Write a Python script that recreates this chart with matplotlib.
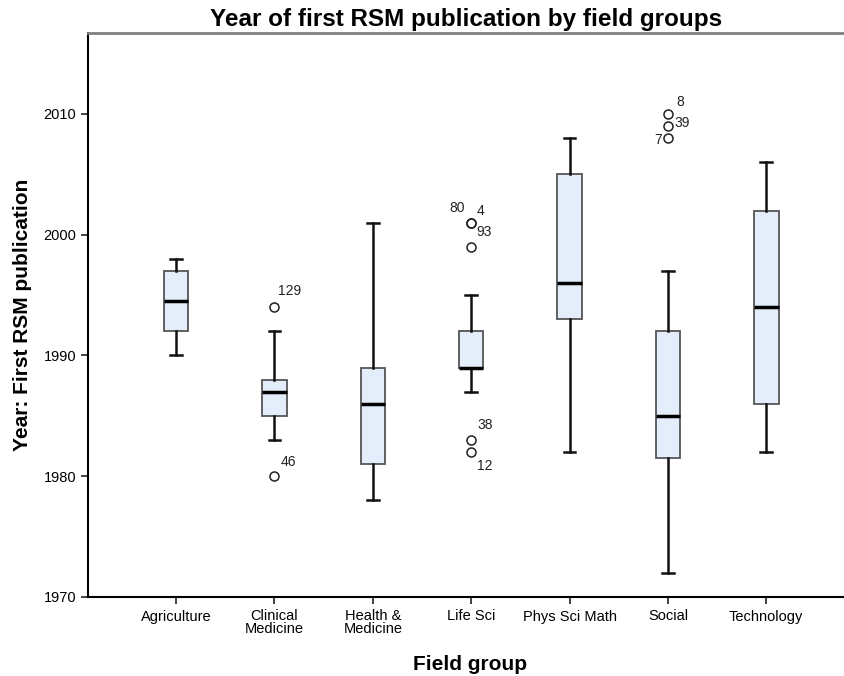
import matplotlib
matplotlib.use("Agg")
import matplotlib.pyplot as plt

plt.rcParams['font.family'] = ['Liberation Sans', 'DejaVu Sans']

# Field groups and five-number summaries (years)
groups = ["Agriculture", "Clinical\nMedicine", "Health &\nMedicine", "Life Sci",
          "Phys Sci Math", "Social", "Technology"]
whisker_low = [1990, 1983, 1978, 1987, 1982, 1972, 1982]
q1 = [1992, 1985, 1981, 1989, 1993, 1981.5, 1986]
median = [1994.5, 1987, 1986, 1989, 1996, 1985, 1994]
q3 = [1997, 1988, 1989, 1992, 2005, 1992, 2002]
whisker_high = [1998, 1992, 2001, 1995, 2008, 1997, 2006]

# Outliers: group index, year, case label
outlier_group = [1, 1, 3, 3, 3, 3, 3, 5, 5, 5]
outlier_year = [1994, 1980, 2001, 2001, 1999, 1983, 1982, 2010, 2009, 2008]
outlier_label = ["129", "46", "80", "4", "93", "38", "12", "8", "39", "7"]
# label offsets in pixels and alignment
label_dx = [4, 6, -6, 5, 5, 6, 6, 8, 6, -6]
label_dy = [16, 14, 15, 12, 15, 15, -14, 12, 3, -2]
label_ha = ["left", "left", "right", "left", "left", "left", "left", "left", "left", "right"]

fig = plt.figure(figsize=(8.45, 6.76), dpi=100)
ax = fig.add_axes([88 / 845, 1 - 597 / 676, 1 - 88 / 845, (597 - 33) / 676])

stats = []
for i in range(len(groups)):
    stats.append(dict(med=median[i], q1=q1[i], q3=q3[i],
                      whislo=whisker_low[i], whishi=whisker_high[i], fliers=[]))

positions = list(range(1, len(groups) + 1))
ax.bxp(stats, positions=positions, widths=0.25, patch_artist=True, showfliers=False,
       boxprops=dict(facecolor="#E3EEFA", edgecolor="#555555", linewidth=1.3),
       medianprops=dict(color="black", linewidth=2.5),
       whiskerprops=dict(color="#111111", linewidth=1.8),
       capprops=dict(color="#111111", linewidth=1.8),
       capwidths=0.12)

for g, y, lab, dx, dy, ha in zip(outlier_group, outlier_year, outlier_label,
                                 label_dx, label_dy, label_ha):
    x = positions[g]
    ax.plot([x], [y], marker="o", markersize=6.5, markerfacecolor="none",
            markeredgecolor="#222222", markeredgewidth=1.1, linestyle="none")
    ax.annotate(lab, xy=(x, y), xytext=(dx, dy), textcoords="offset pixels",
                ha=ha, va="center", fontsize=10, color="#222222")

ax.set_xlim(0.105, 7.80)
ax.set_ylim(1970, 2016.7)
ax.set_yticks([1970, 1980, 1990, 2000, 2010])
ax.set_xticks(positions)
ax.set_xticklabels(groups, fontsize=10.5, linespacing=0.9)
ax.tick_params(axis="y", labelsize=10.5, length=5, width=1.2, color="#222222")
ax.tick_params(axis="x", length=5, width=1.2, color="#222222", pad=4)

ax.spines["right"].set_visible(False)
ax.spines["top"].set_color("#808080")
ax.spines["top"].set_linewidth(2)
ax.spines["left"].set_linewidth(1.5)
ax.spines["bottom"].set_linewidth(1.5)

ax.set_title("Year of first RSM publication by field groups", fontsize=17.5,
             fontweight="bold", pad=5)
ax.set_xlabel("Field group", fontsize=15, fontweight="bold")
ax.xaxis.set_label_coords(0.505, -0.102)
ax.set_ylabel("Year: First RSM publication", fontsize=15, fontweight="bold", labelpad=8)

fig.savefig("out.png", dpi=100)
